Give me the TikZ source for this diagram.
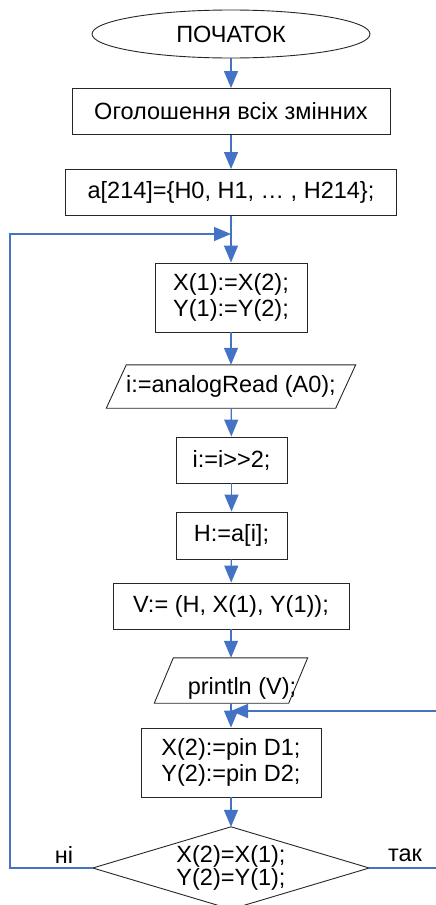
\documentclass[tikz,border=0pt]{standalone}
\usepackage{fontspec}
\setmainfont{Liberation Sans}
\usetikzlibrary{shapes.geometric,arrows.meta}
\definecolor{lineblue}{HTML}{4472C4}
\begin{document}
\begin{tikzpicture}[x=1pt,y=-1pt,
  every node/.style={font=\fontsize{23.5}{26.5}\selectfont, inner sep=0pt},
  box/.style={draw=black!85, line width=0.9pt, rectangle},
  shapeline/.style={draw=black!85, line width=0.9pt},
  plain/.style={rectangle},
  arr/.style={draw=lineblue, line width=1.3pt, -{Triangle[length=17pt,width=14pt]}},
  conn/.style={draw=lineblue, line width=1.3pt}
]
\useasboundingbox (0,0) rectangle (436,905);

\node[draw=black!85, line width=0.9pt, ellipse, minimum width=278, minimum height=48] (start) at (231,34) {ПОЧАТОК};
\node[box, minimum width=318, minimum height=46] (b1) at (231,111.5) {Оголошення всіх змінних};
\node[box, minimum width=331, minimum height=46] (b2) at (231,192.5) {a[214]=\{H0, H1, … , H214\};};
\coordinate (j1) at (231,234);
\node[box, minimum width=152, minimum height=69, align=left] (b3) at (231,297.5) {X(1):=X(2);\\Y(1):=Y(2);};

\node[plain, minimum width=229, minimum height=43] (p1) at (231,386.5) {i:=analogRead (A0);};
\draw[shapeline] ([xshift=10pt]p1.north west) -- ([xshift=10pt]p1.north east) -- ([xshift=-10pt]p1.south east) -- ([xshift=-10pt]p1.south west) -- cycle;

\node[box, minimum width=111, minimum height=46] (b4) at (231.5,460) {i:=i>{}>2;};
\node[box, minimum width=111, minimum height=47] (b5) at (231.5,535.5) {H:=a[i];};
\node[box, minimum width=236, minimum height=46] (b6) at (231,606) {V:= (H, X(1), Y(1));};

\node[plain, minimum width=134, minimum height=45] (p2) at (231,680.5) {};
\draw[shapeline] ([xshift=9.5pt]p2.north west) -- ([xshift=9.5pt]p2.north east) -- ([xshift=-9.5pt]p2.south east) -- ([xshift=-9.5pt]p2.south west) -- cycle;
\node (p2t) at (242,688) {println (V);};

\coordinate (j2) at (231,711);
\node[box, minimum width=180, minimum height=69, align=left] (b7) at (231,762.5) {X(2):=pin D1;\\Y(2):=pin D2;};

\node[plain, minimum width=276, minimum height=82, align=center, font=\fontsize{23.5}{23.5}\selectfont] (d) at (231,868) {X(2)=X(1);\\Y(2)=Y(1);};
\draw[shapeline] (d.north) -- (d.east) -- (d.south) -- (d.west) -- cycle;

\node (no) at (64,855) {ні};
\node (yes) at (405,855) {так};

\coordinate (l1) at (10,868);
\coordinate (r1) at (440,868);

\draw[arr] (start) -- (b1);
\draw[arr] (b1) -- (b2);
\draw[arr] (b2) -- (b3);
\draw[arr] (b3) -- (p1);
\draw[arr] (p1) -- (b4);
\draw[arr] (b4) -- (b5);
\draw[arr] (b5) -- (b6);
\draw[arr] (b6) -- (p2);
\draw[arr] (p2) -- (b7);
\draw[arr] (b7) -- (d.north);
\draw[arr] (d.west) -- (l1) |- (j1);
\draw[arr] (d.east) -- (r1) |- (j2);
\end{tikzpicture}
\end{document}
